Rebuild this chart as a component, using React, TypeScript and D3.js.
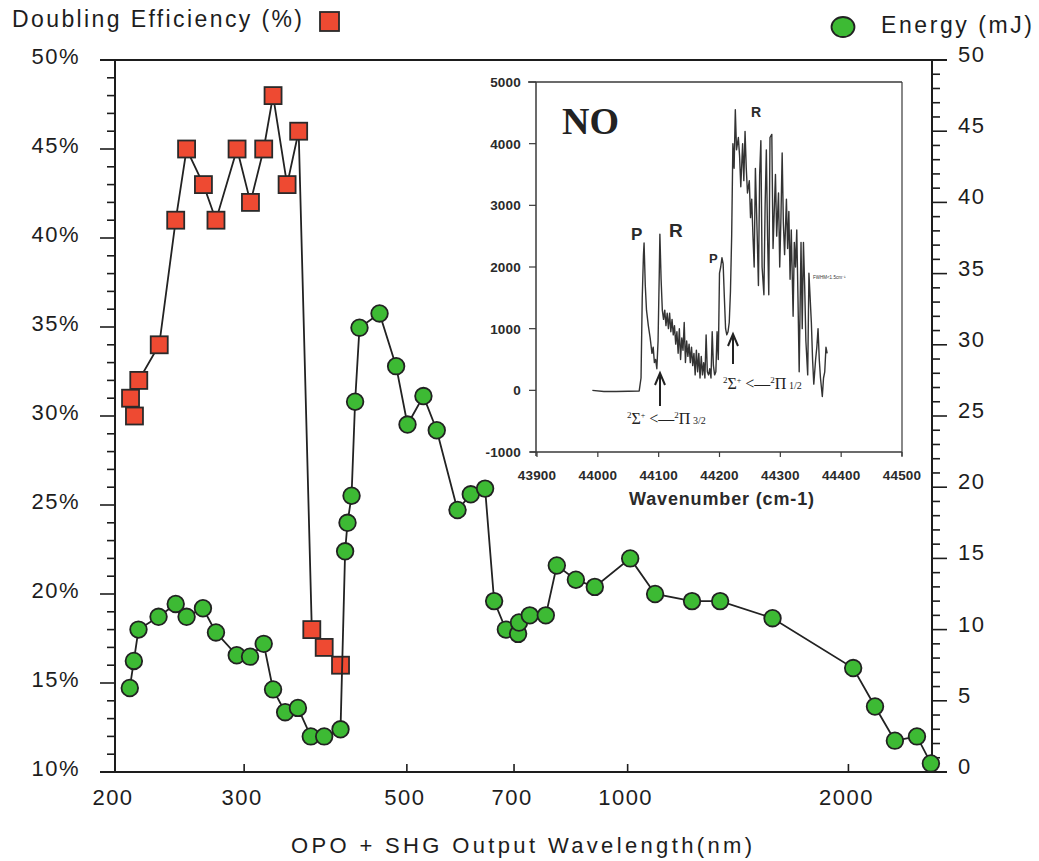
import React, { useEffect, useRef } from 'react';
import * as d3 from 'd3';

// doubling efficiency (%), red squares, left axis
const effWavelength = [210, 212.6, 215.5, 229.8, 242, 250.4, 264, 274.6, 293.4, 306, 319, 328.5, 343.3, 356, 371, 385.7, 406];
const effPercent = [31, 30, 32, 34, 41, 45, 43, 41, 45, 42, 45, 48, 43, 46, 18, 17, 16];

// pulse energy (mJ), green circles, right axis
const energyWavelength = [
  209.5, 212.2, 215.3, 229.3, 242, 250.4, 263.6, 274.6, 293.1, 305.6,
  319, 328.5, 341.2, 355.2, 369.8, 385.7, 406, 411.9, 415, 420.3,
  425, 430.9, 458.9, 483.4, 501, 526.7, 549.2, 586.2, 611.1, 639.2,
  657.6, 682.3, 709, 711, 735.5, 773.4, 800.6, 850, 902, 1008,
  1090, 1224, 1337, 1576, 2030, 2174, 2314, 2480, 2591,
];
const energyMJ = [
  5.9, 7.8, 10.0, 10.9, 11.8, 10.9, 11.5, 9.8, 8.2, 8.1,
  9.0, 5.8, 4.2, 4.5, 2.5, 2.5, 3.0, 15.5, 17.5, 19.4,
  26.0, 31.2, 32.2, 28.5, 24.4, 26.4, 24.0, 18.4, 19.5, 19.9,
  12.0, 10.0, 9.7, 10.5, 11.0, 11.0, 14.5, 13.5, 13.0, 15.0,
  12.5, 12.0, 12.0, 10.8, 7.3, 4.6, 2.2, 2.5, 0.6,
];

const xTicks = [200, 300, 500, 700, 1000, 2000];
const leftTicks = [10, 15, 20, 25, 30, 35, 40, 45, 50];
const rightTicks = [0, 5, 10, 15, 20, 25, 30, 35, 40, 45, 50];

// inset: NO LIF spectrum
const specWavenumber = [
  43991, 44010, 44030, 44050, 44068, 44071, 44073, 44075, 44076, 44078,
  44080, 44083, 44086, 44089, 44091, 44093, 44095, 44097, 44099, 44101,
  44102, 44104, 44106, 44108, 44110, 44112, 44114, 44116, 44118, 44120,
  44122, 44124, 44126, 44128, 44130, 44132, 44134, 44136, 44138, 44140,
  44142, 44144, 44146, 44148, 44150, 44152, 44154, 44156, 44158, 44160,
  44162, 44164, 44166, 44168, 44170, 44172, 44174, 44176, 44178, 44180,
  44182, 44184, 44186, 44188, 44190, 44192, 44194, 44196, 44198, 44200,
  44202, 44204, 44206, 44208, 44210, 44212, 44214, 44216, 44218, 44220,
  44222, 44224, 44226, 44228,
  44231, 44233, 44235, 44238, 44240, 44242, 44244, 44246, 44249, 44251,
  44253, 44255, 44257, 44259, 44262, 44264, 44266, 44268, 44270, 44273,
  44275, 44277, 44279, 44281, 44283, 44286, 44288, 44290, 44292, 44294,
  44297, 44299, 44301, 44303, 44305, 44307, 44310, 44312, 44314, 44316,
  44318, 44321, 44323, 44325, 44327, 44329, 44331, 44334, 44336, 44338,
  44340, 44342, 44345, 44347, 44349, 44351, 44353, 44355, 44358, 44360,
  44362, 44364, 44366, 44369, 44371, 44373, 44375, 44377,
];
const specIntensity = [
  0, -20, -20, -15, -10, 200, 1500, 2200, 2390, 1700,
  1300, 1050, 850, 600, 700, 450, 500, 350, 800, 1900,
  2530, 1800, 1300, 1150, 1300, 1050, 1250, 1000, 1250, 950,
  1150, 900, 1050, 750, 950, 600, 1000, 500, 850, 650,
  1100, 450, 800, 550, 750, 450, 700, 400, 600, 250,
  650, 300, 600, 200, 550, 250, 450, 200, 900, 300,
  250, 350, 200, 950, 400, 250, 300, 950, 500, 1900,
  2000, 2150, 2050, 1500, 1000, 900, 950, 1100, 1600, 2500,
  4000, 3600, 4550, 3900,
  4100, 3800, 3300, 4000, 3400, 4200, 3600, 3200, 3400, 2800,
  3100, 2500, 2000, 3600, 2500, 1700, 3500, 4050, 2000, 1550,
  3000, 3900, 2500, 1550, 4100, 4150, 2300, 2900, 3500, 2500,
  3200, 2000, 2800, 3850, 2700, 2200, 3100, 2300, 2900, 1800,
  2600, 1200, 2400, 2000, 2600, 1500, 300, 2400, 1000, 2400,
  1700, 800, 250, 1900, 1500, 1100, 500, 100, 500, 700,
  1000, 500, 200, -100, 200, 300, 700, 600,
];
const insetXTicks = [43900, 44000, 44100, 44200, 44300, 44400, 44500];
const insetYTicks = [-1000, 0, 1000, 2000, 3000, 4000, 5000];

const W = 1039;
const H = 861;
const plot = { left: 115, right: 932, top: 60, bottom: 772 };
const inset = { left: 536, right: 902, top: 82, bottom: 452 };
const sans = '"Liberation Sans", Arial, sans-serif';
const serif = '"Liberation Serif", "Times New Roman", serif';
const ink = '#1d1d1d';

const App = () => {
  const svgRef = useRef(null);

  useEffect(() => {
    const svg = d3.select(svgRef.current);
    svg.selectAll('*').remove();

    const x = d3.scaleLog().domain([200, 2600]).range([plot.left, plot.right]);
    const yL = d3.scaleLinear().domain([10, 50]).range([plot.bottom, plot.top]);
    const yR = d3.scaleLinear().domain([0, 50]).range([plot.bottom, plot.top]);

    const hline = (g, x1, x2, y, w = 2) =>
      g.append('line').attr('x1', x1).attr('x2', x2).attr('y1', y).attr('y2', y)
        .attr('stroke', ink).attr('stroke-width', w);
    const vline = (g, xx, y1, y2, w = 2) =>
      g.append('line').attr('x1', xx).attr('x2', xx).attr('y1', y1).attr('y2', y2)
        .attr('stroke', ink).attr('stroke-width', w);

    // ---- main frame + axes
    const axes = svg.append('g');
    hline(axes, plot.left - 15, plot.right + 15, plot.top);
    hline(axes, plot.left - 15, plot.right + 15, plot.bottom);
    vline(axes, plot.left, plot.top, plot.bottom);
    vline(axes, plot.right, plot.top, plot.bottom);

    d3.range(10, 51).forEach(v => {
      const len = v % 5 === 0 ? 15 : 8;
      hline(axes, plot.left - len, plot.left, yL(v), 1.6);
    });
    d3.range(0, 51).forEach(v => {
      const len = v % 5 === 0 ? 15 : 8;
      hline(axes, plot.right, plot.right + len, yR(v), 1.6);
    });
    xTicks.forEach(v => vline(axes, x(v), plot.bottom, plot.bottom - 8, 1.6));

    const label = (txt, xx, yy, anchor) =>
      axes.append('text').attr('x', xx).attr('y', yy).attr('text-anchor', anchor)
        .attr('font-family', sans).attr('font-size', 22).attr('letter-spacing', 1.5)
        .attr('fill', ink).text(txt);

    leftTicks.forEach(v => label(`${v}%`, 80, yL(v) + 4, 'end'));
    rightTicks.forEach(v => label(`${v}`, 958, yR(v) + 2, 'start'));
    xTicks.forEach(v => label(`${v}`, x(v) - 2, 805, 'middle'));

    axes.append('text').attr('x', 291).attr('y', 853)
      .attr('font-family', sans).attr('font-size', 22).attr('fill', ink)
      .attr('textLength', 461).attr('lengthAdjust', 'spacing')
      .text('OPO + SHG Output Wavelength(nm)');

    // ---- legends
    axes.append('text').attr('x', 12).attr('y', 27)
      .attr('font-family', sans).attr('font-size', 23).attr('fill', ink)
      .attr('textLength', 290).attr('lengthAdjust', 'spacing')
      .text('Doubling Efficiency (%)');
    axes.append('rect').attr('x', 320).attr('y', 12).attr('width', 19).attr('height', 19)
      .attr('fill', '#ee4a32').attr('stroke', '#2a2a2a').attr('stroke-width', 1.8);

    axes.append('ellipse').attr('cx', 843).attr('cy', 27).attr('rx', 11.5).attr('ry', 10)
      .attr('fill', '#3dba34').attr('stroke', '#222').attr('stroke-width', 1.8);
    axes.append('text').attr('x', 881).attr('y', 33)
      .attr('font-family', sans).attr('font-size', 23).attr('fill', ink)
      .attr('textLength', 151).attr('lengthAdjust', 'spacing')
      .text('Energy (mJ)');

    // ---- inset
    const ix = d3.scaleLinear().domain([43900, 44500]).range([inset.left + 1, inset.right]);
    const iy = d3.scaleLinear().domain([-1000, 5000]).range([inset.bottom, inset.top]);
    const ins = svg.append('g');
    ins.append('rect').attr('x', inset.left).attr('y', inset.top)
      .attr('width', inset.right - inset.left).attr('height', inset.bottom - inset.top)
      .attr('fill', '#fff');
    const gray = '#3a3a3a';
    const il = (x1, y1, x2, y2, w = 1.5) =>
      ins.append('line').attr('x1', x1).attr('y1', y1).attr('x2', x2).attr('y2', y2)
        .attr('stroke', gray).attr('stroke-width', w);
    il(inset.left - 8, inset.top, inset.right, inset.top);
    il(inset.left - 6, inset.bottom, inset.right, inset.bottom);
    il(inset.left, inset.top, inset.left, inset.bottom + 4);
    il(inset.right, inset.top, inset.right, inset.bottom + 4, 1.2);

    insetYTicks.forEach(v => {
      il(inset.left - 7, iy(v), inset.left, iy(v), 1.2);
      ins.append('text').attr('x', 521).attr('y', iy(v) + 5).attr('text-anchor', 'end')
        .attr('font-family', sans).attr('font-weight', 'bold').attr('font-size', 13.5)
        .attr('letter-spacing', 0.2).attr('fill', '#2a2a2a').text(v);
    });
    insetXTicks.forEach(v => {
      il(ix(v), inset.bottom, ix(v), inset.bottom + 5, 1.2);
      ins.append('text').attr('x', ix(v)).attr('y', 480).attr('text-anchor', 'middle')
        .attr('font-family', sans).attr('font-weight', 'bold').attr('font-size', 13.5)
        .attr('letter-spacing', 0.2).attr('fill', '#2a2a2a').text(v);
    });
    ins.append('text').attr('x', 629).attr('y', 505)
      .attr('font-family', sans).attr('font-weight', 'bold').attr('font-size', 18)
      .attr('fill', '#2a2a2a').attr('textLength', 185).attr('lengthAdjust', 'spacing')
      .text('Wavenumber (cm-1)');

    const spec = specWavenumber.map((w, i) => [w, specIntensity[i]]);
    ins.append('path').datum(spec)
      .attr('d', d3.line().x(d => ix(d[0])).y(d => iy(d[1])))
      .attr('fill', 'none').attr('stroke', '#333').attr('stroke-width', 1.4)
      .attr('stroke-linejoin', 'round');

    ins.append('text').attr('x', 562).attr('y', 134)
      .attr('font-family', serif).attr('font-weight', 'bold').attr('font-size', 38)
      .attr('fill', '#222').text('NO');
    const bl = (t, xx, yy, s) =>
      ins.append('text').attr('x', xx).attr('y', yy).attr('font-family', sans)
        .attr('font-weight', 'bold').attr('font-size', s).attr('fill', '#2a2a2a').text(t);
    bl('P', 631, 240, 17);
    bl('R', 669, 237, 19);
    bl('P', 709, 263, 13);
    bl('R', 751, 117, 14);
    ins.append('text').attr('x', 813).attr('y', 279).attr('font-family', sans)
      .attr('font-size', 4.5).attr('fill', '#333').text('FWHM<1.5cm⁻¹');

    const arrow = (ax, tip, base) => {
      ins.append('line').attr('x1', ax).attr('x2', ax).attr('y1', tip + 2).attr('y2', base)
        .attr('stroke', '#222').attr('stroke-width', 2);
      ins.append('path').attr('d', `M${ax - 5},${tip + 12} L${ax},${tip} L${ax + 5},${tip + 12}`)
        .attr('fill', 'none').attr('stroke', '#222').attr('stroke-width', 2);
    };
    arrow(660, 373, 406);
    arrow(733, 334, 364);

    const transition = (xx, yy, sub) => {
      const t = ins.append('text').attr('x', xx).attr('y', yy)
        .attr('font-family', serif).attr('font-size', 16).attr('fill', '#222');
      t.append('tspan').attr('font-size', 9).attr('dy', -6).text('2');
      t.append('tspan').attr('dy', 6).text('Σ');
      t.append('tspan').attr('font-size', 8).attr('dy', -6).text('+');
      t.append('tspan').attr('dy', 6).text(' <—');
      t.append('tspan').attr('font-size', 9).attr('dy', -6).text('2');
      t.append('tspan').attr('dy', 6).text('Π');
      t.append('tspan').attr('font-size', 10).text(` ${sub}`);
    };
    transition(627, 424, '3/2');
    transition(723, 389, '1/2');

    // ---- data series
    const series = svg.append('g');
    const effData = effWavelength.map((w, i) => [w, effPercent[i]]);
    const enData = energyWavelength.map((w, i) => [w, energyMJ[i]]);

    series.append('path').datum(effData)
      .attr('d', d3.line().x(d => x(d[0])).y(d => yL(d[1])))
      .attr('fill', 'none').attr('stroke', '#222').attr('stroke-width', 1.8);
    series.selectAll('.sq').data(effData).join('rect').attr('class', 'sq')
      .attr('x', d => x(d[0]) - 8.5).attr('y', d => yL(d[1]) - 8.5)
      .attr('width', 17).attr('height', 17)
      .attr('fill', '#ee4a32').attr('stroke', '#2a2a2a').attr('stroke-width', 1.8);

    series.append('path').datum(enData)
      .attr('d', d3.line().x(d => x(d[0])).y(d => yR(d[1])))
      .attr('fill', 'none').attr('stroke', '#222').attr('stroke-width', 1.8);
    series.selectAll('.dot').data(enData).join('circle').attr('class', 'dot')
      .attr('cx', d => x(d[0])).attr('cy', d => yR(d[1])).attr('r', 8.3)
      .attr('fill', '#3dba34').attr('stroke', '#222').attr('stroke-width', 1.8);
  }, []);

  return (
    <svg ref={svgRef} width={W} height={H}
      style={{ position: 'absolute', left: 0, top: 0, background: '#fff' }} />
  );
};

export default App;
